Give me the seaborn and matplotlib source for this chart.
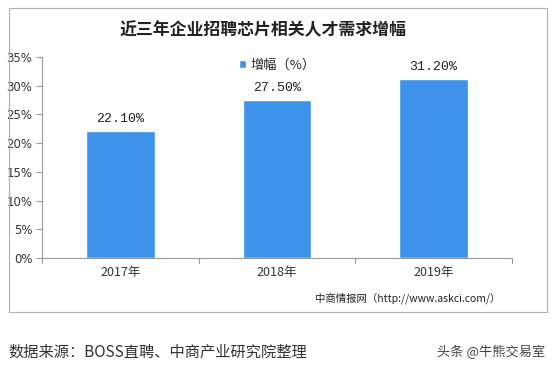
import matplotlib
matplotlib.use("Agg")
import matplotlib.pyplot as plt
import seaborn as sns
import pandas as pd
from matplotlib.patches import Rectangle

years = ["2017年", "2018年", "2019年"]
values = [22.10, 27.50, 31.20]
value_labels = ["22.10%", "27.50%", "31.20%"]
yticks = [0, 5, 10, 15, 20, 25, 30, 35]
ytick_labels = ["0%", "5%", "10%", "15%", "20%", "25%", "30%", "35%"]
title = "近三年企业招聘芯片相关人才需求增幅"
legend_label = "增幅（%）"
source_note = "中商情报网（http://www.askci.com/）"
footer_left = "数据来源：BOSS直聘、中商产业研究院整理"
footer_right = "头条 @牛熊交易室"

sns.set_style("white")
plt.rcParams['font.family'] = ['Noto Sans CJK SC', 'DejaVu Sans']

BLUE = "#3D93EA"
GRAY = "#9a9a9a"

fig = plt.figure(figsize=(5.53, 3.70), dpi=100)
ax = fig.add_axes([42/553, 112/370, 470/553, 201/370])

df = pd.DataFrame({"year": years, "value": values})
sns.barplot(data=df, x="year", y="value", color=BLUE, width=0.44, ax=ax,
            saturation=1, label=legend_label)

ax.set_xlim(-0.5, 2.5)
ax.set_ylim(0, 35)
ax.set_yticks(yticks)
ax.set_yticklabels(ytick_labels, fontsize=8.5, color="#333333", family=['DejaVu Sans'])
ax.set_xticks([0, 1, 2])
ax.set_xticklabels(years, fontsize=9, color="#333333")
ax.tick_params(axis='x', length=0, pad=6)
ax.tick_params(axis='y', length=4, width=0.8, color=GRAY, pad=3, direction='out', left=True)
ax.set_xlabel("")
ax.set_ylabel("")
for s in ["top", "right"]:
    ax.spines[s].set_visible(False)
for s in ["left", "bottom"]:
    ax.spines[s].set_color(GRAY)
    ax.spines[s].set_linewidth(0.8)

# category boundary ticks on x axis
for xb in [-0.5, 0.5, 1.5, 2.5]:
    ax.plot([xb, xb], [0, -0.9], color=GRAY, lw=0.8, clip_on=False)

for i, (v, lab) in enumerate(zip(values, value_labels)):
    ax.text(i, v + 1.1, lab, ha="center", va="bottom", fontsize=9.5,
            family=['Liberation Mono'], color="#222222")

leg = ax.legend(loc="upper center", bbox_to_anchor=(0.5, 1.05), frameon=False,
                fontsize=9.5, handlelength=0.6, handleheight=0.6, handletextpad=0.3)

fig.text(263/553, 1 - 30/370, title, ha="center", va="center", fontsize=12.2,
         fontweight="bold", color="#222222")
fig.text(500/553, 1 - 298/370, source_note, ha="right", va="center", fontsize=7.5,
         color="#222222")

fig.patches.append(Rectangle((9/553, 1 - 312/370), 538/553, 304/370,
                             transform=fig.transFigure, fill=False,
                             edgecolor="#b0b0b0", lw=0.8))

fig.text(8/553, 1 - 352/370, footer_left, ha="left", va="center", fontsize=11,
         color="#333333")
fig.text(545/553, 1 - 352/370, footer_right, ha="right", va="center", fontsize=9.5,
         color="#444444")

fig.savefig("out.png", dpi=100)
